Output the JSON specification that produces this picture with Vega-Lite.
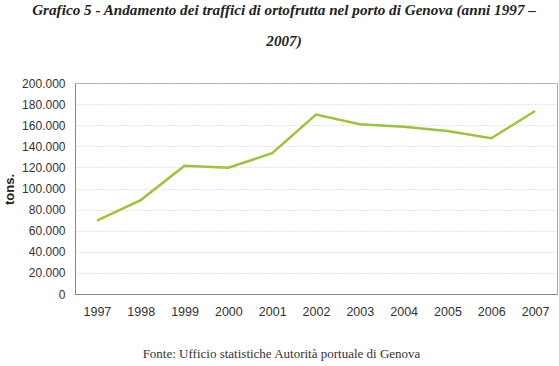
{
  "$schema": "https://vega.github.io/schema/vega-lite/v6.json",
  "width": 482,
  "height": 211,
  "autosize": {"type": "none"},
  "padding": {"left": 75, "top": 83, "right": 2, "bottom": 72},
  "background": "white",
  "config": {
    "locale": {"number": {"decimal": ",", "thousands": ".", "grouping": [3], "currency": ["€", ""]}},
    "view": {"stroke": "#aaaaaa", "strokeWidth": 1},
    "font": "Liberation Sans"
  },
  "title": {
    "text": ["Grafico 5 - Andamento dei traffici di ortofrutta nel porto di Genova (anni 1997 –", "2007)"],
    "font": "Liberation Serif",
    "fontStyle": "italic",
    "fontWeight": "bold",
    "fontSize": 15.2,
    "color": "#222222",
    "lineHeight": 31,
    "anchor": "middle",
    "frame": "group",
    "dx": -32,
    "offset": 28
  },
  "data": {
    "values": [
      {"anno": "1997", "tons": 69500},
      {"anno": "1998", "tons": 89000},
      {"anno": "1999", "tons": 121600},
      {"anno": "2000", "tons": 119700},
      {"anno": "2001", "tons": 133400},
      {"anno": "2002", "tons": 170000},
      {"anno": "2003", "tons": 161000},
      {"anno": "2004", "tons": 158600},
      {"anno": "2005", "tons": 154500},
      {"anno": "2006", "tons": 147600},
      {"anno": "2007", "tons": 173500}
    ]
  },
  "mark": {"type": "line", "color": "#9dc33b", "strokeWidth": 2.5},
  "encoding": {
    "x": {
      "field": "anno",
      "type": "ordinal",
      "scale": {"paddingInner": 0, "paddingOuter": 0},
      "axis": {
        "title": "Fonte: Ufficio statistiche Autorità portuale di Genova",
        "titleFont": "Liberation Serif",
        "titleFontWeight": "normal",
        "titleFontSize": 13,
        "titleColor": "#333333",
        "titleX": 206,
        "titleY": 53,
        "titleAnchor": "middle",
        "labelAngle": 0,
        "labelFontSize": 12.5,
        "labelColor": "#333333",
        "labelPadding": 11,
        "ticks": false,
        "domainColor": "#888888",
        "grid": false
      }
    },
    "y": {
      "field": "tons",
      "type": "quantitative",
      "scale": {"domain": [0, 200000], "nice": false},
      "axis": {
        "title": "tons.",
        "titleFontSize": 13,
        "titleFontWeight": "bold",
        "titleColor": "#222222",
        "titleAngle": -90,
        "titleX": -66,
        "titleY": 106,
        "titleAlign": "center",
        "titleBaseline": "middle",
        "values": [0, 20000, 40000, 60000, 80000, 100000, 120000, 140000, 160000, 180000, 200000],
        "format": ",d",
        "labelFontSize": 12,
        "labelColor": "#333333",
        "labelPadding": 10,
        "ticks": false,
        "domainColor": "#888888",
        "grid": true,
        "gridColor": "#cccccc",
        "gridDash": [1, 2],
        "gridWidth": 1
      }
    }
  }
}
